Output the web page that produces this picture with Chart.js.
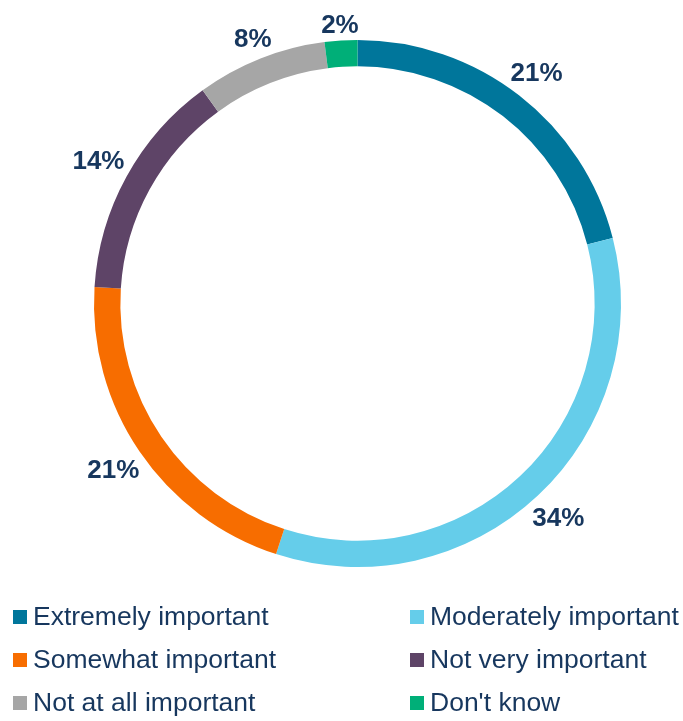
<!DOCTYPE html>
<html>
<head>
<meta charset="utf-8">
<title>Importance</title>
<script src="https://cdn.jsdelivr.net/npm/chart.js@4/dist/chart.umd.min.js"></script>
<style>
  html, body { margin: 0; padding: 0; background: #fff; }
  #wrap { width: 683px; height: 721px; }
</style>
</head>
<body>
<div id="wrap"><canvas id="importanceChart" width="683" height="721"></canvas></div>
<script>
const categories = ['Extremely important', 'Moderately important', 'Somewhat important',
                    'Not very important', 'Not at all important', "Don't know"];
const shares = [21, 34, 21, 14, 8, 2];
const colours = ['#00769B', '#65CDEA', '#F76D00', '#5E4467', '#A6A6A6', '#00AF78'];

const textColour = '#17375E';

// percentage labels just outside the ring, pushed out by half the text box
const outsideLabels = {
    id: 'outsideLabels',
    afterDatasetsDraw(chart) {
        const ctx = chart.ctx;
        const meta = chart.getDatasetMeta(0);
        ctx.save();
        ctx.font = 'bold 26px "Liberation Sans", Arial, sans-serif';
        ctx.fillStyle = textColour;
        ctx.textAlign = 'center';
        ctx.textBaseline = 'middle';
        meta.data.forEach(function(arc, i) {
            const mid = (arc.startAngle + arc.endAngle) / 2;
            const cos = Math.cos(mid), sin = Math.sin(mid);
            const text = shares[i] + '%';
            const hw = ctx.measureText(text).width / 2;
            const hh = 11;
            const d = arc.outerRadius + 4 + hw * Math.abs(cos) + hh * Math.abs(sin);
            ctx.fillText(text, arc.x + cos * d, arc.y + sin * d + 1);
        });
        ctx.restore();
    }
};

// two-column legend under the ring
const gridLegend = {
    id: 'gridLegend',
    afterDraw(chart) {
        const ctx = chart.ctx;
        const colX = [13, 410];
        const rowY = [617, 660, 703];
        ctx.save();
        ctx.font = '26.5px "Liberation Sans", Arial, sans-serif';
        ctx.textBaseline = 'middle';
        ctx.textAlign = 'left';
        categories.forEach(function(name, i) {
            const x = colX[i % 2];
            const y = rowY[Math.floor(i / 2)];
            ctx.fillStyle = colours[i];
            ctx.fillRect(x, y - 7, 14, 14);
            ctx.fillStyle = textColour;
            ctx.fillText(name, x + 20, y + 1);
        });
        ctx.restore();
    }
};

new Chart(document.getElementById('importanceChart').getContext('2d'), {
    type: 'doughnut',
    data: {
        labels: categories,
        datasets: [{
            data: shares,
            backgroundColor: colours,
            borderWidth: 0,
            hoverOffset: 0
        }]
    },
    options: {
        responsive: false,
        animation: false,
        cutout: '90%',
        layout: { padding: { left: 94, right: 62, top: 40, bottom: 154 } },
        plugins: {
            legend: { display: false },
            tooltip: { enabled: false }
        }
    },
    plugins: [outsideLabels, gridLegend]
});
</script>
</body>
</html>
